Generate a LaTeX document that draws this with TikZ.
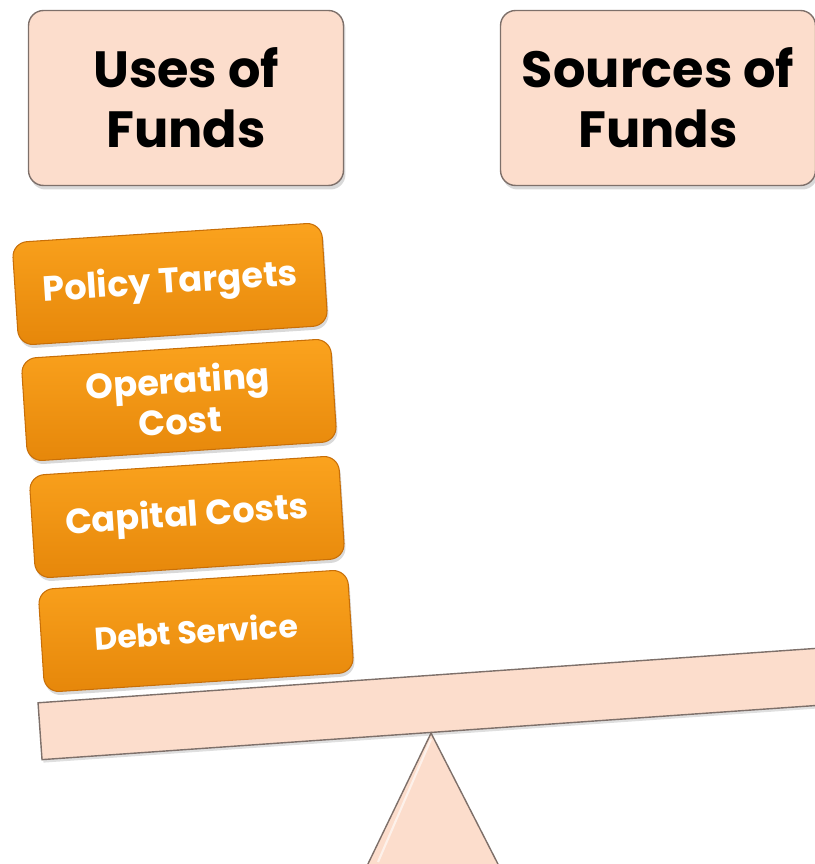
\documentclass[tikz,border=0pt]{standalone}
\usepackage{fontspec}
\setmainfont{Poppins}
\usetikzlibrary{shadows}
\definecolor{peach}{HTML}{FCDDCC}
\definecolor{peachLine}{HTML}{7E706A}
\definecolor{orangeTop}{HTML}{FBA31E}
\definecolor{orangeBot}{HTML}{E6870A}
\definecolor{orangeLine}{HTML}{C86F08}
\begin{document}
\begin{tikzpicture} [x=0.02cm,y=-0.02cm,
	header/.style={shape=rectangle,rounded corners=0.3cm,minimum width=6.3cm,minimum height=3.5cm,draw=peachLine,line width=0.8pt,fill=peach,align=center,font=\fontsize{29}{34}\selectfont\bfseries,drop shadow={opacity=0.3,shadow xshift=0.04cm,shadow yshift=-0.08cm}},
	item/.style={shape=rectangle,rounded corners=0.3cm,minimum width=6.2cm,minimum height=2.06cm,rotate=3.7,draw=orangeLine,line width=0.6pt,top color=orangeTop,bottom color=orangeBot,text=white,align=center,font=\fontsize{20}{23}\selectfont\bfseries,drop shadow={opacity=0.3,shadow xshift=0.03cm,shadow yshift=-0.07cm}},
	beam/.style={shape=rectangle,minimum width=15.6cm,minimum height=1.14cm,rotate=4,draw=peachLine,line width=0.8pt,fill=peach,drop shadow={opacity=0.25,shadow xshift=0.03cm,shadow yshift=-0.06cm}},
	pivot/.style={draw=peachLine,line width=0.8pt,fill=peach,line join=miter}]
	\useasboundingbox (0,0) rectangle (814,864);

	% headings
	\node (usesNode) at (186,98)[header] {Uses of\\Funds};
	\node (sourcesNode) at (658,98)[header] {Sources of\\Funds};

	% stack of uses
	\node (policyNode) at (170,284)[item] {Policy Targets};
	\node (operatingNode) at (179,400)[item] {Operating\\Cost};
	\node (capitalNode) at (187,517)[item] {Capital Costs};
	\node (debtNode) at (196,631)[item,font=\fontsize{18}{21}\selectfont\bfseries] {Debt Service};

	% balance
	\node (beamNode) at (429,704)[beam] {};
	\draw[pivot] (beamNode.south) -- (366,868) -- (500,868) -- cycle;
	\draw[white,opacity=0.6,line width=1.2pt] ([shift={(0,6)}]beamNode.south) -- (378,862);
\end{tikzpicture}
\end{document}
